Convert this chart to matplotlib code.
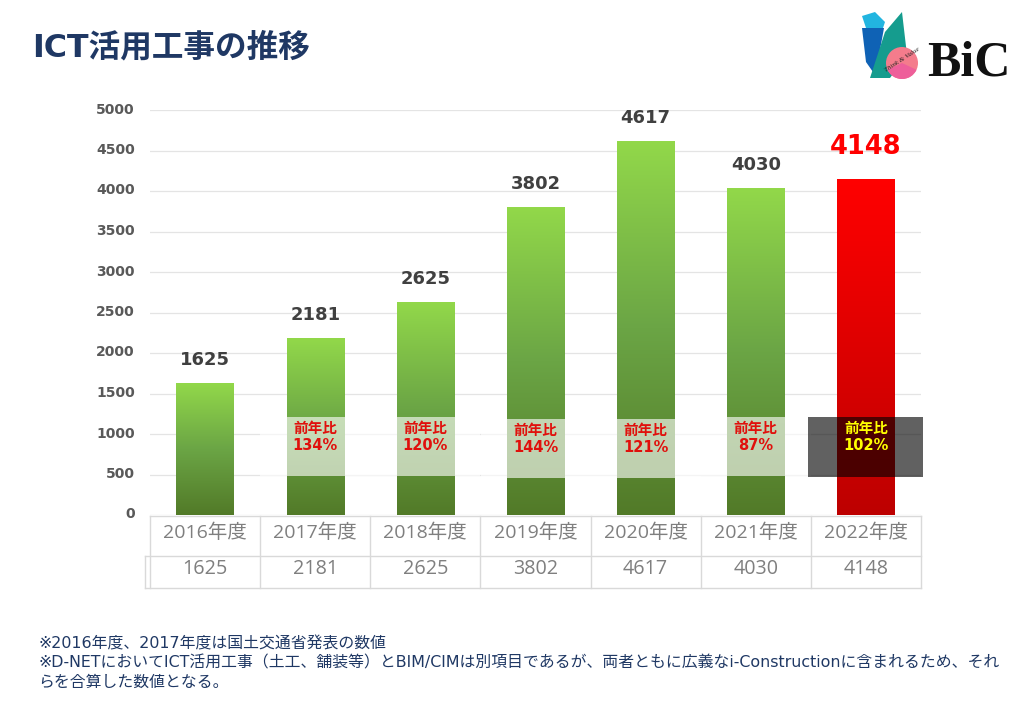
import numpy as np
import matplotlib
matplotlib.use('Agg')
import matplotlib.pyplot as plt
from matplotlib.colors import LinearSegmentedColormap
from matplotlib.patches import Rectangle, Polygon, Circle, Wedge
from matplotlib.transforms import ScaledTranslation

plt.rcParams['font.family'] = ['DejaVu Sans', 'Noto Sans CJK JP']

# Données
annees = ['2016年度', '2017年度', '2018年度', '2019年度', '2020年度', '2021年度', '2022年度']
valeurs = [1625, 2181, 2625, 3802, 4617, 4030, 4148]
ratios = [None, '134%', '120%', '144%', '121%', '87%', '102%']
yticks = [0, 500, 1000, 1500, 2000, 2500, 3000, 3500, 4000, 4500, 5000]

titre = 'ICT活用工事の推移'
notes = ['※2016年度、2017年度は国土交通省発表の数値',
         '※D-NETにおいてICT活用工事（土工、舗装等）とBIM/CIMは別項目であるが、両者ともに広義なi-Constructionに含まれるため、それ',
         'らを合算した数値となる。']

vert = LinearSegmentedColormap.from_list('vert', ['#527a28', '#6ba545', '#92d84a'])
rouge = LinearSegmentedColormap.from_list('rouge', ['#bd0000', '#ff0000'])

fig = plt.figure(figsize=(10.24, 7.09), dpi=100, facecolor='white')

# Graphique principal
ax = fig.add_axes([150 / 1024, 1 - 515 / 709, 771 / 1024, 405 / 709])
ax.set_xlim(-0.5, 6.5)
ax.set_ylim(0, 5000)
for s in ax.spines.values():
    s.set_visible(False)
ax.set_yticks(yticks)
ax.set_xticks([])
ax.tick_params(axis='y', length=0, pad=11)
decalage = ScaledTranslation(0, 2 / 100, fig.dpi_scale_trans)
for lab in ax.get_yticklabels():
    lab.set_fontsize(10)
    lab.set_fontweight('bold')
    lab.set_color('#595959')
    lab.set_transform(lab.get_transform() + decalage)
ax.grid(axis='y', color='#e4e4e4', lw=0.9)
ax.set_axisbelow(True)

grad = np.linspace(1, 0, 256).reshape(-1, 1)
for i, v in enumerate(valeurs):
    cmap = rouge if i == 6 else vert
    ax.imshow(grad, extent=[i - 0.26, i + 0.26, 0, v], cmap=cmap, aspect='auto', zorder=2)
    if i == 6:
        ax.text(i, v + 230, str(v), ha='center', va='bottom', fontsize=18.5,
                fontweight='bold', color='#ff0000', zorder=5)
    else:
        ax.text(i, v + 175, str(v), ha='center', va='bottom', fontsize=13,
                fontweight='bold', color='#404040', zorder=5)
ax.set_xlim(-0.5, 6.5)
ax.set_ylim(0, 5000)

# Calque en pixels pour le tableau, les bandeaux et le logo
ov = fig.add_axes([0, 0, 1, 1], facecolor='none')
ov.set_xlim(0, 1024)
ov.set_ylim(709, 0)
ov.axis('off')

# Bandeaux "前年比"
haut = [None, 417, 417, 419, 419, 417, 417]
bas = [None, 476, 476, 478, 478, 476, 477]
for i in range(1, 7):
    xc = 150 + (i + 0.5) * 771 / 7
    if i == 6:
        ov.add_patch(Rectangle((808, haut[i]), 115, bas[i] - haut[i], fc='black', alpha=0.62, lw=0))
        coul = '#ffff00'
    else:
        ov.add_patch(Rectangle((xc - 55, haut[i]), 110, bas[i] - haut[i], fc='white', alpha=0.62, lw=0))
        coul = '#e0100c'
    ov.text(xc, haut[i] + 11, '前年比', ha='center', va='center', fontsize=10.5, fontweight='bold', color=coul)
    ov.text(xc, haut[i] + 29, ratios[i], ha='center', va='center', fontsize=10.5, fontweight='bold', color=coul)

# Tableau
tc = '#d9d9d9'
for y in [515.5, 556, 588]:
    ov.plot([150 if y < 520 else 145, 921], [y, y], color=tc, lw=1)
ov.plot([145, 145], [556, 588], color=tc, lw=1)
for i in range(8):
    x = 150 + i * 771 / 7
    ov.plot([x, x], [515.5, 588], color=tc, lw=1)
police_table = ['Open Sans', 'Noto Sans CJK JP']
for i in range(7):
    xc = 150 + (i + 0.5) * 771 / 7
    ov.text(xc, 533, annees[i], ha='center', va='center', fontsize=14, color='#7f7f7f',
            family=police_table)
    ov.text(xc, 569, str(valeurs[i]), ha='center', va='center', fontsize=14.2, color='#7f7f7f',
            family=police_table)

# Titre et notes
ov.text(32, 48, titre, ha='left', va='center', fontsize=22.8, fontweight='bold', color='#1f3864')
for y, n in zip([644, 663, 682], notes):
    ov.text(38, y, n, ha='left', va='center', fontsize=11.4, color='#1f3864')

# Logo
ov.add_patch(Polygon([(862, 28), (884, 28), (880, 50), (873, 72), (866, 62)], fc='#0f62b5', lw=0))
ov.add_patch(Polygon([(862, 16), (875, 12), (885, 22), (883, 28), (866, 28)], fc='#22b5e0', lw=0))
ov.add_patch(Polygon([(902, 12), (907, 55), (890, 78), (870, 78), (885, 32)], fc='#159c8e', lw=0))
ov.add_patch(Circle((902, 63), 16, fc='#f47c8c', lw=0))
ov.add_patch(Wedge((902, 63), 16, 25, 155, fc='#ee5f9a', lw=0))
ov.text(902, 60, 'Think & Value', ha='center', va='center', fontsize=5, style='italic',
        rotation=33, color='#222222', family=['Liberation Serif'])
ov.text(969, 63, 'BiC', ha='center', va='center', fontsize=36, fontweight='bold',
        color='#111111', family=['Liberation Serif'])

fig.savefig('out.png', dpi=100)
